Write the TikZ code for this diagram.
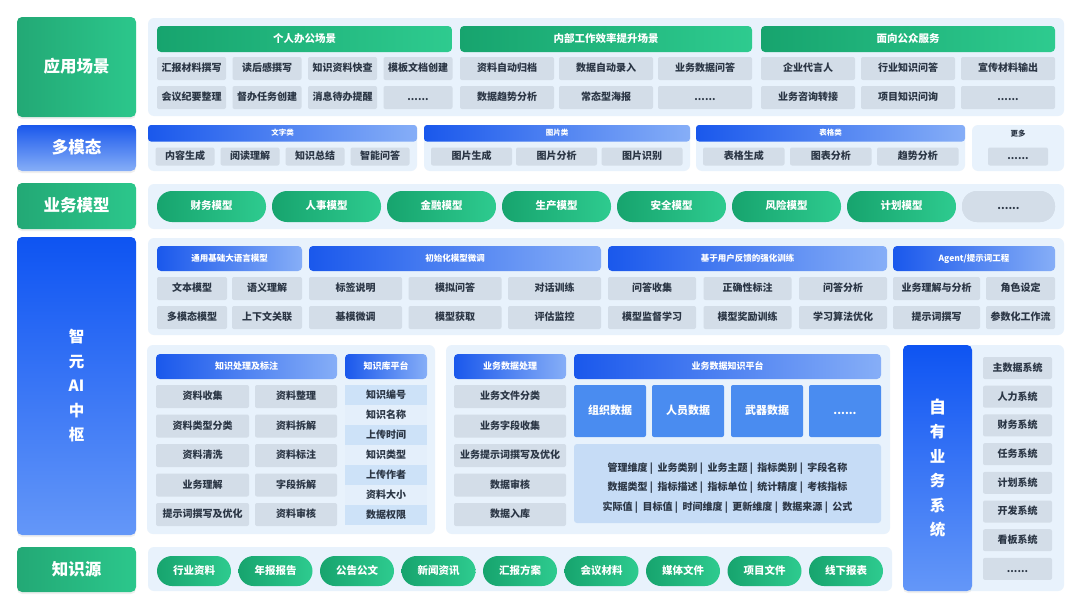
\documentclass[tikz,border=0pt]{standalone}
\usepackage{fontspec}
\setmainfont{Noto Sans CJK SC}
\usetikzlibrary{shadows}

\definecolor{grnA}{HTML}{17A46E}
\definecolor{grnB}{HTML}{2ECB8F}
\definecolor{bluA}{HTML}{1A58EC}
\definecolor{bluB}{HTML}{86AEF7}
\definecolor{bluTop}{HTML}{0E54F2}
\definecolor{bluBot}{HTML}{6497F8}
\definecolor{panelbg}{HTML}{E8F2FC}
\definecolor{itemgray}{HTML}{D3DDE8}
\definecolor{txtdark}{HTML}{2B3645}
\definecolor{boxblue}{HTML}{4A8CF0}
\definecolor{detailbg}{HTML}{C6DCF6}
\definecolor{stripeA}{HTML}{CDE2F8}
\definecolor{stripeB}{HTML}{E4EFFB}

\newcommand{\fsz}[1]{\fontsize{#1}{#1}\selectfont}

% box with its top left corner at (x,y), pixel units
\NewDocumentCommand{\blk}{m m m m m m m}{
    \node[#1, anchor=north west, minimum width=#5, minimum height=#6] (#2) at (#3,#4) {#7};
}

\tikzset{
    base/.style={inner sep=0pt, outer sep=0pt},
    lab/.style={base, rounded corners=5pt, text=white, font=\bfseries\fsz{16.5},
        text height=13.5pt, text depth=2.5pt,
        drop shadow={opacity=0.12, shadow xshift=0pt, shadow yshift=-2pt}},
    glab/.style={lab, left color=grnA!95!white, right color=grnB!90!grnA},
    blab/.style={lab, top color=bluA, bottom color=bluB},
    hublab/.style={base, rounded corners=5pt, text=white, top color=bluTop, bottom color=bluBot,
        align=center, font=\bfseries\fontsize{15.5}{24.5}\selectfont,
        drop shadow={opacity=0.12, shadow xshift=0pt, shadow yshift=-2pt}},
    panel/.style={base, fill=panelbg, rounded corners=6pt},
    ghead/.style={base, left color=grnA, right color=grnB, rounded corners=4pt,
        text=white, font=\bfseries\fsz{10.5}, text height=8.6pt, text depth=1.7pt},
    bhead/.style={base, left color=bluA, right color=bluB, rounded corners=4pt,
        text=white, font=\bfseries\fsz{8.5}, text height=7.2pt, text depth=1.4pt},
    mhead/.style={bhead, rounded corners=3pt, font=\bfseries\fsz{7.5}, text height=6.3pt, text depth=1.2pt},
    itm/.style={base, fill=itemgray, rounded corners=2pt, text=txtdark, font=\bfseries\fsz{10},
        text height=8.2pt, text depth=1.6pt},
    gpill/.style={base, left color=grnA, right color=grnB, rounded corners=15pt,
        text=white, font=\bfseries\fsz{10.5}, text height=8.6pt, text depth=1.7pt},
    greypill/.style={gpill, fill=itemgray, left color=itemgray, right color=itemgray, text=txtdark},
    bbox/.style={base, fill=boxblue, rounded corners=2pt, text=white, font=\bfseries\fsz{11},
        text height=9pt, text depth=1.8pt},
    stripeA/.style={base, fill=stripeA, text=txtdark, font=\bfseries\fsz{10},
        text height=8.2pt, text depth=1.6pt},
    stripeB/.style={stripeA, fill=stripeB},
}

\begin{document}
\begin{tikzpicture}[x=1pt, y=-1pt]
    \useasboundingbox[fill=white] (0,0) rectangle (1080,608);

    % application scenes
    \blk{glab}{lscene}{17}{17}{119}{100}{应用场景}
    \blk{panel}{pscene}{148}{18}{916}{98}{}
    \def\y{26}
    \blk{ghead}{hpers}{157}{\y}{295}{26}{个人办公场景}
    \blk{ghead}{hinner}{460}{\y}{292}{26}{内部工作效率提升场景}
    \blk{ghead}{hpub}{761}{\y}{294}{26}{面向公众服务}
    \def\y{57}
    \blk{itm}{s11}{157}{\y}{69}{23}{汇报材料撰写}
    \blk{itm}{s12}{232.5}{\y}{69}{23}{读后感撰写}
    \blk{itm}{s13}{308}{\y}{69}{23}{知识资料快查}
    \blk{itm}{s14}{383.5}{\y}{69}{23}{模板文档创建}
    \blk{itm}{s15}{460}{\y}{94}{23}{资料自动归档}
    \blk{itm}{s16}{559}{\y}{94}{23}{数据自动录入}
    \blk{itm}{s17}{658}{\y}{94}{23}{业务数据问答}
    \blk{itm}{s18}{761}{\y}{94}{23}{企业代言人}
    \blk{itm}{s19}{861}{\y}{94}{23}{行业知识问答}
    \blk{itm}{s1a}{961}{\y}{94}{23}{宣传材料输出}
    \def\y{86}
    \blk{itm}{s21}{157}{\y}{69}{23}{会议纪要整理}
    \blk{itm}{s22}{232.5}{\y}{69}{23}{督办任务创建}
    \blk{itm}{s23}{308}{\y}{69}{23}{消息待办提醒}
    \blk{itm}{s24}{383.5}{\y}{69}{23}{......}
    \blk{itm}{s25}{460}{\y}{94}{23}{数据趋势分析}
    \blk{itm}{s26}{559}{\y}{94}{23}{常态型海报}
    \blk{itm}{s27}{658}{\y}{94}{23}{......}
    \blk{itm}{s28}{761}{\y}{94}{23}{业务咨询转接}
    \blk{itm}{s29}{861}{\y}{94}{23}{项目知识问询}
    \blk{itm}{s2a}{961}{\y}{94}{23}{......}

    % multimodal
    \def\y{125}
    \blk{blab}{lmodal}{17}{\y}{119}{46}{多模态}
    \blk{panel}{ptext}{148}{\y}{269}{46}{}
    \blk{panel}{ppic}{424}{\y}{266}{46}{}
    \blk{panel}{ptab}{696}{\y}{269}{46}{}
    \blk{panel}{pmore}{972}{\y}{92}{46}{}
    \blk{mhead}{htext}{148}{\y}{269}{16.5}{文字类}
    \blk{mhead}{hpic}{424}{\y}{266}{16.5}{图片类}
    \blk{mhead}{htab}{696}{\y}{269}{16.5}{表格类}
    \node[base, text=txtdark, font=\bfseries\fsz{7.5}] (hmore) at (1018,134) {更多};
    \def\y{147.5}
    \blk{itm}{m1}{155.5}{\y}{59}{18}{内容生成}
    \blk{itm}{m2}{220.5}{\y}{59}{18}{阅读理解}
    \blk{itm}{m3}{285.5}{\y}{59}{18}{知识总结}
    \blk{itm}{m4}{350.5}{\y}{59}{18}{智能问答}
    \blk{itm}{m5}{431}{\y}{81}{18}{图片生成}
    \blk{itm}{m6}{516}{\y}{81}{18}{图片分析}
    \blk{itm}{m7}{601.5}{\y}{81}{18}{图片识别}
    \blk{itm}{m8}{703}{\y}{81.5}{18}{表格生成}
    \blk{itm}{m9}{790}{\y}{81.5}{18}{图表分析}
    \blk{itm}{ma}{877}{\y}{81.5}{18}{趋势分析}
    \blk{itm}{mb}{988}{\y}{60}{18}{......}

    % business models
    \def\y{183}
    \blk{glab}{lbiz}{17}{\y}{119}{46}{业务模型}
    \blk{panel}{pbiz}{148}{\y+1}{916}{45}{}
    \def\y{191}
    \blk{gpill}{b1}{157}{\y}{109}{31}{财务模型}
    \blk{gpill}{b2}{272}{\y}{109}{31}{人事模型}
    \blk{gpill}{b3}{387}{\y}{109}{31}{金融模型}
    \blk{gpill}{b4}{502}{\y}{109}{31}{生产模型}
    \blk{gpill}{b5}{617}{\y}{109}{31}{安全模型}
    \blk{gpill}{b6}{732}{\y}{109}{31}{风险模型}
    \blk{gpill}{b7}{847}{\y}{109}{31}{计划模型}
    \blk{greypill}{b8}{962}{\y}{93}{31}{......}

    % AI hub: models
    \blk{hublab}{lhub}{17}{237}{119}{298}{智\\元\\AI\\中\\枢}
    \blk{panel}{pllm}{148}{238}{916}{97}{}
    \def\y{246}
    \blk{bhead}{hbase}{157}{\y}{145}{25}{通用基础大语言模型}
    \blk{bhead}{htune}{309}{\y}{292}{25}{初始化模型微调}
    \blk{bhead}{hrl}{608}{\y}{279}{25}{基于用户反馈的强化训练}
    \blk{bhead}{hagent}{893}{\y}{162}{25}{Agent/提示词工程}
    \def\y{277}
    \blk{itm}{l11}{157}{\y}{70}{23}{文本模型}
    \blk{itm}{l12}{232}{\y}{70}{23}{语义理解}
    \blk{itm}{l13}{309}{\y}{93}{23}{标签说明}
    \blk{itm}{l14}{408.5}{\y}{93}{23}{模拟问答}
    \blk{itm}{l15}{508}{\y}{93}{23}{对话训练}
    \blk{itm}{l16}{608}{\y}{88}{23}{问答收集}
    \blk{itm}{l17}{703.5}{\y}{88}{23}{正确性标注}
    \blk{itm}{l18}{799}{\y}{88}{23}{问答分析}
    \blk{itm}{l19}{893}{\y}{87}{23}{业务理解与分析}
    \blk{itm}{l1a}{986}{\y}{69}{23}{角色设定}
    \def\y{306}
    \blk{itm}{l21}{157}{\y}{70}{23}{多模态模型}
    \blk{itm}{l22}{232}{\y}{70}{23}{上下文关联}
    \blk{itm}{l23}{309}{\y}{93}{23}{基模微调}
    \blk{itm}{l24}{408.5}{\y}{93}{23}{模型获取}
    \blk{itm}{l25}{508}{\y}{93}{23}{评估监控}
    \blk{itm}{l26}{608}{\y}{88}{23}{模型监督学习}
    \blk{itm}{l27}{703.5}{\y}{88}{23}{模型奖励训练}
    \blk{itm}{l28}{799}{\y}{88}{23}{学习算法优化}
    \blk{itm}{l29}{893}{\y}{87}{23}{提示词撰写}
    \blk{itm}{l2a}{986}{\y}{69}{23}{参数化工作流}

    % AI hub: knowledge processing
    \blk{panel}{pknow}{147}{345}{288}{189}{}
    \blk{bhead}{hknow}{156}{354}{181}{25}{\fsz{9}知识处理及标注}
    \blk{bhead}{hkb}{345}{354}{82}{25}{\fsz{9}知识库平台}
    \blk{itm}{k11}{156}{385}{93}{23}{资料收集}
    \blk{itm}{k12}{255}{385}{82}{23}{资料整理}
    \blk{itm}{k21}{156}{414.5}{93}{23}{资料类型分类}
    \blk{itm}{k22}{255}{414.5}{82}{23}{资料拆解}
    \blk{itm}{k31}{156}{444}{93}{23}{资料清洗}
    \blk{itm}{k32}{255}{444}{82}{23}{资料标注}
    \blk{itm}{k41}{156}{473.5}{93}{23}{业务理解}
    \blk{itm}{k42}{255}{473.5}{82}{23}{字段拆解}
    \blk{itm}{k51}{156}{503}{93}{23}{提示词撰写及优化}
    \blk{itm}{k52}{255}{503}{82}{23}{资料审核}
    \blk{stripeA}{kb1}{345}{385}{82}{20}{知识编号}
    \blk{stripeB}{kb2}{345}{405}{82}{20}{知识名称}
    \blk{stripeA}{kb3}{345}{425}{82}{20}{上传时间}
    \blk{stripeB}{kb4}{345}{445}{82}{20}{知识类型}
    \blk{stripeA}{kb5}{345}{465}{82}{20}{上传作者}
    \blk{stripeB}{kb6}{345}{485}{82}{20}{资料大小}
    \blk{stripeA}{kb7}{345}{505}{82}{20}{数据权限}

    % AI hub: business data
    \blk{panel}{pdata}{446}{345}{444}{189}{}
    \blk{bhead}{hdata}{454}{354}{112}{25}{\fsz{9}业务数据处理}
    \blk{bhead}{hplat}{574}{354}{307}{25}{\fsz{9}业务数据知识平台}
    \blk{itm}{d1}{454}{385}{112}{23}{业务文件分类}
    \blk{itm}{d2}{454}{414.5}{112}{23}{业务字段收集}
    \blk{itm}{d3}{454}{444}{112}{23}{业务提示词撰写及优化}
    \blk{itm}{d4}{454}{473.5}{112}{23}{数据审核}
    \blk{itm}{d5}{454}{503}{112}{23}{数据入库}
    \blk{bbox}{org}{574}{385}{72}{52}{组织数据}
    \blk{bbox}{staff}{652}{385}{72}{52}{人员数据}
    \blk{bbox}{arms}{731}{385}{72}{52}{武器数据}
    \blk{bbox}{etc}{809}{385}{72}{52}{......}
    \blk{base, fill=detailbg, rounded corners=3pt}{dbox}{574}{444}{307}{79}{}
    \node[base, text=txtdark, align=center, font=\bfseries\fontsize{10}{19.5}\selectfont] (dtxt) at (727.5,488)
        {管理维度 |\ \ 业务类别 |\ \ 业务主题 |\ \ 指标类别 |\ \ 字段名称\\
         数据类型 |\ \ 指标描述 |\ \ 指标单位 |\ \ 统计精度 |\ \ 考核指标\\
         实际值 |\ \ 目标值 |\ \ 时间维度 |\ \ 更新维度 |\ \ 数据来源 |\ \ 公式};

    % own business systems
    \blk{panel}{psys}{903}{345}{161}{246}{}
    \blk{hublab}{lsys}{903}{345}{69}{246}{\fontsize{17}{24.2}\selectfont 自\\有\\业\\务\\系\\统}
    \blk{itm}{y1}{983}{357}{69}{22}{主数据系统}
    \blk{itm}{y2}{983}{385.7}{69}{22}{人力系统}
    \blk{itm}{y3}{983}{414.4}{69}{22}{财务系统}
    \blk{itm}{y4}{983}{443.1}{69}{22}{任务系统}
    \blk{itm}{y5}{983}{471.8}{69}{22}{计划系统}
    \blk{itm}{y6}{983}{500.5}{69}{22}{开发系统}
    \blk{itm}{y7}{983}{529.2}{69}{22}{看板系统}
    \blk{itm}{y8}{983}{557.9}{69}{22}{......}

    % knowledge sources
    \def\y{556}
    \blk{glab}{lsrc}{17}{547}{119}{45}{知识源}
    \blk{panel}{psrc}{148}{547}{744}{44}{}
    \blk{gpill}{k1}{157}{\y}{74}{30}{行业资料}
    \blk{gpill}{k2}{238.5}{\y}{74}{30}{年报报告}
    \blk{gpill}{k3}{320}{\y}{74}{30}{公告公文}
    \blk{gpill}{k4}{401.5}{\y}{74}{30}{新闻资讯}
    \blk{gpill}{k5}{483}{\y}{74}{30}{汇报方案}
    \blk{gpill}{k6}{564.5}{\y}{74}{30}{会议材料}
    \blk{gpill}{k7}{646}{\y}{74}{30}{媒体文件}
    \blk{gpill}{k8}{727.5}{\y}{74}{30}{项目文件}
    \blk{gpill}{k9}{809}{\y}{74}{30}{线下报表}
\end{tikzpicture}
\end{document}
